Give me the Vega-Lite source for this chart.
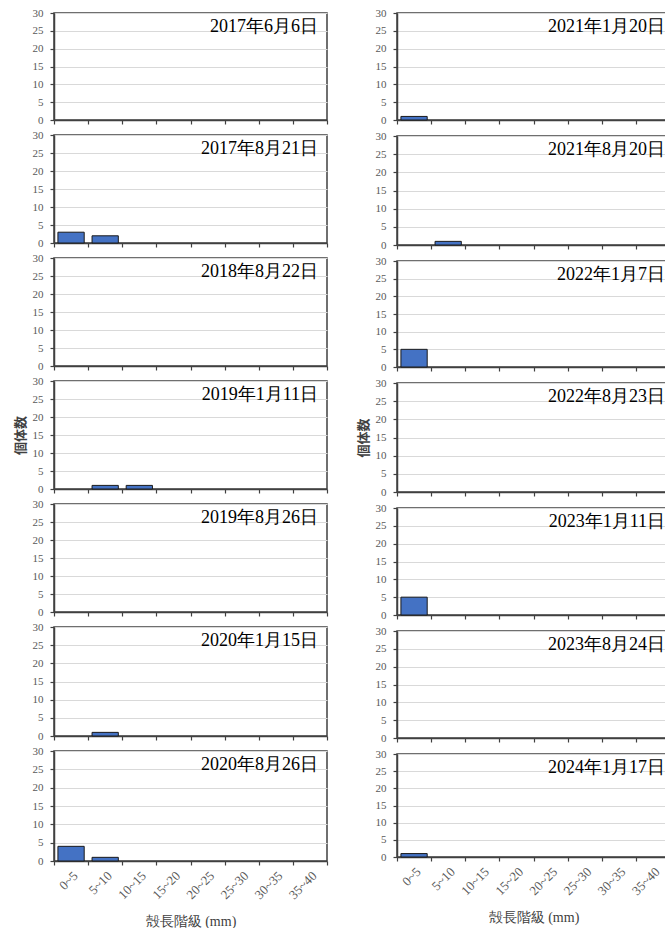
{
"$schema": "https://vega.github.io/schema/vega-lite/v6.json",
"background": "white",
"padding": {"left": 13, "top": 6, "right": 0, "bottom": 0},
"autosize": {"type": "pad"},
"datasets": {"counts": [
{"d":"2017年6月6日","c":"0~5","n":0},{"d":"2017年6月6日","c":"5~10","n":0},{"d":"2017年6月6日","c":"10~15","n":0},{"d":"2017年6月6日","c":"15~20","n":0},{"d":"2017年6月6日","c":"20~25","n":0},{"d":"2017年6月6日","c":"25~30","n":0},{"d":"2017年6月6日","c":"30~35","n":0},{"d":"2017年6月6日","c":"35~40","n":0},
{"d":"2017年8月21日","c":"0~5","n":3},{"d":"2017年8月21日","c":"5~10","n":2},{"d":"2017年8月21日","c":"10~15","n":0},{"d":"2017年8月21日","c":"15~20","n":0},{"d":"2017年8月21日","c":"20~25","n":0},{"d":"2017年8月21日","c":"25~30","n":0},{"d":"2017年8月21日","c":"30~35","n":0},{"d":"2017年8月21日","c":"35~40","n":0},
{"d":"2018年8月22日","c":"0~5","n":0},{"d":"2018年8月22日","c":"5~10","n":0},{"d":"2018年8月22日","c":"10~15","n":0},{"d":"2018年8月22日","c":"15~20","n":0},{"d":"2018年8月22日","c":"20~25","n":0},{"d":"2018年8月22日","c":"25~30","n":0},{"d":"2018年8月22日","c":"30~35","n":0},{"d":"2018年8月22日","c":"35~40","n":0},
{"d":"2019年1月11日","c":"0~5","n":0},{"d":"2019年1月11日","c":"5~10","n":1},{"d":"2019年1月11日","c":"10~15","n":1},{"d":"2019年1月11日","c":"15~20","n":0},{"d":"2019年1月11日","c":"20~25","n":0},{"d":"2019年1月11日","c":"25~30","n":0},{"d":"2019年1月11日","c":"30~35","n":0},{"d":"2019年1月11日","c":"35~40","n":0},
{"d":"2019年8月26日","c":"0~5","n":0},{"d":"2019年8月26日","c":"5~10","n":0},{"d":"2019年8月26日","c":"10~15","n":0},{"d":"2019年8月26日","c":"15~20","n":0},{"d":"2019年8月26日","c":"20~25","n":0},{"d":"2019年8月26日","c":"25~30","n":0},{"d":"2019年8月26日","c":"30~35","n":0},{"d":"2019年8月26日","c":"35~40","n":0},
{"d":"2020年1月15日","c":"0~5","n":0},{"d":"2020年1月15日","c":"5~10","n":1},{"d":"2020年1月15日","c":"10~15","n":0},{"d":"2020年1月15日","c":"15~20","n":0},{"d":"2020年1月15日","c":"20~25","n":0},{"d":"2020年1月15日","c":"25~30","n":0},{"d":"2020年1月15日","c":"30~35","n":0},{"d":"2020年1月15日","c":"35~40","n":0},
{"d":"2020年8月26日","c":"0~5","n":4},{"d":"2020年8月26日","c":"5~10","n":1},{"d":"2020年8月26日","c":"10~15","n":0},{"d":"2020年8月26日","c":"15~20","n":0},{"d":"2020年8月26日","c":"20~25","n":0},{"d":"2020年8月26日","c":"25~30","n":0},{"d":"2020年8月26日","c":"30~35","n":0},{"d":"2020年8月26日","c":"35~40","n":0},
{"d":"2021年1月20日","c":"0~5","n":1},{"d":"2021年1月20日","c":"5~10","n":0},{"d":"2021年1月20日","c":"10~15","n":0},{"d":"2021年1月20日","c":"15~20","n":0},{"d":"2021年1月20日","c":"20~25","n":0},{"d":"2021年1月20日","c":"25~30","n":0},{"d":"2021年1月20日","c":"30~35","n":0},{"d":"2021年1月20日","c":"35~40","n":0},
{"d":"2021年8月20日","c":"0~5","n":0},{"d":"2021年8月20日","c":"5~10","n":1},{"d":"2021年8月20日","c":"10~15","n":0},{"d":"2021年8月20日","c":"15~20","n":0},{"d":"2021年8月20日","c":"20~25","n":0},{"d":"2021年8月20日","c":"25~30","n":0},{"d":"2021年8月20日","c":"30~35","n":0},{"d":"2021年8月20日","c":"35~40","n":0},
{"d":"2022年1月7日","c":"0~5","n":5},{"d":"2022年1月7日","c":"5~10","n":0},{"d":"2022年1月7日","c":"10~15","n":0},{"d":"2022年1月7日","c":"15~20","n":0},{"d":"2022年1月7日","c":"20~25","n":0},{"d":"2022年1月7日","c":"25~30","n":0},{"d":"2022年1月7日","c":"30~35","n":0},{"d":"2022年1月7日","c":"35~40","n":0},
{"d":"2022年8月23日","c":"0~5","n":0},{"d":"2022年8月23日","c":"5~10","n":0},{"d":"2022年8月23日","c":"10~15","n":0},{"d":"2022年8月23日","c":"15~20","n":0},{"d":"2022年8月23日","c":"20~25","n":0},{"d":"2022年8月23日","c":"25~30","n":0},{"d":"2022年8月23日","c":"30~35","n":0},{"d":"2022年8月23日","c":"35~40","n":0},
{"d":"2023年1月11日","c":"0~5","n":5},{"d":"2023年1月11日","c":"5~10","n":0},{"d":"2023年1月11日","c":"10~15","n":0},{"d":"2023年1月11日","c":"15~20","n":0},{"d":"2023年1月11日","c":"20~25","n":0},{"d":"2023年1月11日","c":"25~30","n":0},{"d":"2023年1月11日","c":"30~35","n":0},{"d":"2023年1月11日","c":"35~40","n":0},
{"d":"2023年8月24日","c":"0~5","n":0},{"d":"2023年8月24日","c":"5~10","n":0},{"d":"2023年8月24日","c":"10~15","n":0},{"d":"2023年8月24日","c":"15~20","n":0},{"d":"2023年8月24日","c":"20~25","n":0},{"d":"2023年8月24日","c":"25~30","n":0},{"d":"2023年8月24日","c":"30~35","n":0},{"d":"2023年8月24日","c":"35~40","n":0},
{"d":"2024年1月17日","c":"0~5","n":1},{"d":"2024年1月17日","c":"5~10","n":0},{"d":"2024年1月17日","c":"10~15","n":0},{"d":"2024年1月17日","c":"15~20","n":0},{"d":"2024年1月17日","c":"20~25","n":0},{"d":"2024年1月17日","c":"25~30","n":0},{"d":"2024年1月17日","c":"30~35","n":0},{"d":"2024年1月17日","c":"35~40","n":0}
]},
"data": {"name": "counts"},
"spacing": 27,
"hconcat": [
{"bounds": "flush", "spacing": 15, "vconcat": [
{"width": 273, "height": 107, "transform": [{"filter": "datum.d === '2017年6月6日'"}], "layer": [
{"mark": {"type": "bar", "fill": "#4472C4", "stroke": "#1a1a1a", "strokeWidth": 1, "width": {"band": 0.77}}, "transform": [{"filter": "datum.n > 0"}], "encoding": {"x": {"field": "c", "type": "nominal", "sort": null, "scale": {"domain": ["0~5","5~10","10~15","15~20","20~25","25~30","30~35","35~40"], "paddingInner": 0, "paddingOuter": 0}, "axis": {"labels": false}, "title": null}, "y": {"field": "n", "type": "quantitative", "scale": {"domain": [0, 30]}, "axis": {"values": [0,5,10,15,20,25,30], "grid": true}, "title": null}}},
{"mark": {"type": "text", "font": "Liberation Serif", "fontSize": 18, "fill": "#000000", "align": "right", "baseline": "alphabetic", "dx": -9, "dy": 19}, "transform": [{"filter": "datum.c === '0~5'"}], "encoding": {"x": {"datum": "35~40", "type": "nominal", "bandPosition": 1, "axis": {"labels": false}, "title": null}, "y": {"datum": 30, "type": "quantitative", "axis": {"values": [0,5,10,15,20,25,30], "grid": true}, "title": null}, "text": {"field": "d"}}}
]},
{"width": 273, "height": 108, "transform": [{"filter": "datum.d === '2017年8月21日'"}], "layer": [
{"mark": {"type": "bar", "fill": "#4472C4", "stroke": "#1a1a1a", "strokeWidth": 1, "width": {"band": 0.77}}, "transform": [{"filter": "datum.n > 0"}], "encoding": {"x": {"field": "c", "type": "nominal", "sort": null, "scale": {"domain": ["0~5","5~10","10~15","15~20","20~25","25~30","30~35","35~40"], "paddingInner": 0, "paddingOuter": 0}, "axis": {"labels": false}, "title": null}, "y": {"field": "n", "type": "quantitative", "scale": {"domain": [0, 30]}, "axis": {"values": [0,5,10,15,20,25,30], "grid": true}, "title": null}}},
{"mark": {"type": "text", "font": "Liberation Serif", "fontSize": 18, "fill": "#000000", "align": "right", "baseline": "alphabetic", "dx": -9, "dy": 19}, "transform": [{"filter": "datum.c === '0~5'"}], "encoding": {"x": {"datum": "35~40", "type": "nominal", "bandPosition": 1, "axis": {"labels": false}, "title": null}, "y": {"datum": 30, "type": "quantitative", "axis": {"values": [0,5,10,15,20,25,30], "grid": true}, "title": null}, "text": {"field": "d"}}}
]},
{"width": 273, "height": 108, "transform": [{"filter": "datum.d === '2018年8月22日'"}], "layer": [
{"mark": {"type": "bar", "fill": "#4472C4", "stroke": "#1a1a1a", "strokeWidth": 1, "width": {"band": 0.77}}, "transform": [{"filter": "datum.n > 0"}], "encoding": {"x": {"field": "c", "type": "nominal", "sort": null, "scale": {"domain": ["0~5","5~10","10~15","15~20","20~25","25~30","30~35","35~40"], "paddingInner": 0, "paddingOuter": 0}, "axis": {"labels": false}, "title": null}, "y": {"field": "n", "type": "quantitative", "scale": {"domain": [0, 30]}, "axis": {"values": [0,5,10,15,20,25,30], "grid": true}, "title": null}}},
{"mark": {"type": "text", "font": "Liberation Serif", "fontSize": 18, "fill": "#000000", "align": "right", "baseline": "alphabetic", "dx": -9, "dy": 19}, "transform": [{"filter": "datum.c === '0~5'"}], "encoding": {"x": {"datum": "35~40", "type": "nominal", "bandPosition": 1, "axis": {"labels": false}, "title": null}, "y": {"datum": 30, "type": "quantitative", "axis": {"values": [0,5,10,15,20,25,30], "grid": true}, "title": null}, "text": {"field": "d"}}}
]},
{"width": 273, "height": 108, "transform": [{"filter": "datum.d === '2019年1月11日'"}], "layer": [
{"mark": {"type": "bar", "fill": "#4472C4", "stroke": "#1a1a1a", "strokeWidth": 1, "width": {"band": 0.77}}, "transform": [{"filter": "datum.n > 0"}], "encoding": {"x": {"field": "c", "type": "nominal", "sort": null, "scale": {"domain": ["0~5","5~10","10~15","15~20","20~25","25~30","30~35","35~40"], "paddingInner": 0, "paddingOuter": 0}, "axis": {"labels": false}, "title": null}, "y": {"field": "n", "type": "quantitative", "scale": {"domain": [0, 30]}, "axis": {"values": [0,5,10,15,20,25,30], "grid": true}, "title": "個体数"}}},
{"mark": {"type": "text", "font": "Liberation Serif", "fontSize": 18, "fill": "#000000", "align": "right", "baseline": "alphabetic", "dx": -9, "dy": 19}, "transform": [{"filter": "datum.c === '0~5'"}], "encoding": {"x": {"datum": "35~40", "type": "nominal", "bandPosition": 1, "axis": {"labels": false}, "title": null}, "y": {"datum": 30, "type": "quantitative", "axis": {"values": [0,5,10,15,20,25,30], "grid": true}, "title": "個体数"}, "text": {"field": "d"}}}
]},
{"width": 273, "height": 108, "transform": [{"filter": "datum.d === '2019年8月26日'"}], "layer": [
{"mark": {"type": "bar", "fill": "#4472C4", "stroke": "#1a1a1a", "strokeWidth": 1, "width": {"band": 0.77}}, "transform": [{"filter": "datum.n > 0"}], "encoding": {"x": {"field": "c", "type": "nominal", "sort": null, "scale": {"domain": ["0~5","5~10","10~15","15~20","20~25","25~30","30~35","35~40"], "paddingInner": 0, "paddingOuter": 0}, "axis": {"labels": false}, "title": null}, "y": {"field": "n", "type": "quantitative", "scale": {"domain": [0, 30]}, "axis": {"values": [0,5,10,15,20,25,30], "grid": true}, "title": null}}},
{"mark": {"type": "text", "font": "Liberation Serif", "fontSize": 18, "fill": "#000000", "align": "right", "baseline": "alphabetic", "dx": -9, "dy": 19}, "transform": [{"filter": "datum.c === '0~5'"}], "encoding": {"x": {"datum": "35~40", "type": "nominal", "bandPosition": 1, "axis": {"labels": false}, "title": null}, "y": {"datum": 30, "type": "quantitative", "axis": {"values": [0,5,10,15,20,25,30], "grid": true}, "title": null}, "text": {"field": "d"}}}
]},
{"width": 273, "height": 109, "transform": [{"filter": "datum.d === '2020年1月15日'"}], "layer": [
{"mark": {"type": "bar", "fill": "#4472C4", "stroke": "#1a1a1a", "strokeWidth": 1, "width": {"band": 0.77}}, "transform": [{"filter": "datum.n > 0"}], "encoding": {"x": {"field": "c", "type": "nominal", "sort": null, "scale": {"domain": ["0~5","5~10","10~15","15~20","20~25","25~30","30~35","35~40"], "paddingInner": 0, "paddingOuter": 0}, "axis": {"labels": false}, "title": null}, "y": {"field": "n", "type": "quantitative", "scale": {"domain": [0, 30]}, "axis": {"values": [0,5,10,15,20,25,30], "grid": true}, "title": null}}},
{"mark": {"type": "text", "font": "Liberation Serif", "fontSize": 18, "fill": "#000000", "align": "right", "baseline": "alphabetic", "dx": -9, "dy": 19}, "transform": [{"filter": "datum.c === '0~5'"}], "encoding": {"x": {"datum": "35~40", "type": "nominal", "bandPosition": 1, "axis": {"labels": false}, "title": null}, "y": {"datum": 30, "type": "quantitative", "axis": {"values": [0,5,10,15,20,25,30], "grid": true}, "title": null}, "text": {"field": "d"}}}
]},
{"width": 273, "height": 110, "transform": [{"filter": "datum.d === '2020年8月26日'"}], "layer": [
{"mark": {"type": "bar", "fill": "#4472C4", "stroke": "#1a1a1a", "strokeWidth": 1, "width": {"band": 0.77}}, "transform": [{"filter": "datum.n > 0"}], "encoding": {"x": {"field": "c", "type": "nominal", "sort": null, "scale": {"domain": ["0~5","5~10","10~15","15~20","20~25","25~30","30~35","35~40"], "paddingInner": 0, "paddingOuter": 0}, "axis": {"labels": true}, "title": "殻長階級 (mm)"}, "y": {"field": "n", "type": "quantitative", "scale": {"domain": [0, 30]}, "axis": {"values": [0,5,10,15,20,25,30], "grid": true}, "title": null}}},
{"mark": {"type": "text", "font": "Liberation Serif", "fontSize": 18, "fill": "#000000", "align": "right", "baseline": "alphabetic", "dx": -9, "dy": 19}, "transform": [{"filter": "datum.c === '0~5'"}], "encoding": {"x": {"datum": "35~40", "type": "nominal", "bandPosition": 1, "axis": {"labels": true}, "title": "殻長階級 (mm)"}, "y": {"datum": 30, "type": "quantitative", "axis": {"values": [0,5,10,15,20,25,30], "grid": true}, "title": null}, "text": {"field": "d"}}}
]}
]},
{"bounds": "flush", "spacing": 16, "vconcat": [
{"width": 273, "height": 107, "transform": [{"filter": "datum.d === '2021年1月20日'"}], "layer": [
{"mark": {"type": "bar", "fill": "#4472C4", "stroke": "#1a1a1a", "strokeWidth": 1, "width": {"band": 0.77}}, "transform": [{"filter": "datum.n > 0"}], "encoding": {"x": {"field": "c", "type": "nominal", "sort": null, "scale": {"domain": ["0~5","5~10","10~15","15~20","20~25","25~30","30~35","35~40"], "paddingInner": 0, "paddingOuter": 0}, "axis": {"labels": false}, "title": null}, "y": {"field": "n", "type": "quantitative", "scale": {"domain": [0, 30]}, "axis": {"values": [0,5,10,15,20,25,30], "grid": true}, "title": null}}},
{"mark": {"type": "text", "font": "Liberation Serif", "fontSize": 18, "fill": "#000000", "align": "right", "baseline": "alphabetic", "dx": -5, "dy": 19}, "transform": [{"filter": "datum.c === '0~5'"}], "encoding": {"x": {"datum": "35~40", "type": "nominal", "bandPosition": 1, "axis": {"labels": false}, "title": null}, "y": {"datum": 30, "type": "quantitative", "axis": {"values": [0,5,10,15,20,25,30], "grid": true}, "title": null}, "text": {"field": "d"}}}
]},
{"width": 273, "height": 109, "transform": [{"filter": "datum.d === '2021年8月20日'"}], "layer": [
{"mark": {"type": "bar", "fill": "#4472C4", "stroke": "#1a1a1a", "strokeWidth": 1, "width": {"band": 0.77}}, "transform": [{"filter": "datum.n > 0"}], "encoding": {"x": {"field": "c", "type": "nominal", "sort": null, "scale": {"domain": ["0~5","5~10","10~15","15~20","20~25","25~30","30~35","35~40"], "paddingInner": 0, "paddingOuter": 0}, "axis": {"labels": false}, "title": null}, "y": {"field": "n", "type": "quantitative", "scale": {"domain": [0, 30]}, "axis": {"values": [0,5,10,15,20,25,30], "grid": true}, "title": null}}},
{"mark": {"type": "text", "font": "Liberation Serif", "fontSize": 18, "fill": "#000000", "align": "right", "baseline": "alphabetic", "dx": -5, "dy": 19}, "transform": [{"filter": "datum.c === '0~5'"}], "encoding": {"x": {"datum": "35~40", "type": "nominal", "bandPosition": 1, "axis": {"labels": false}, "title": null}, "y": {"datum": 30, "type": "quantitative", "axis": {"values": [0,5,10,15,20,25,30], "grid": true}, "title": null}, "text": {"field": "d"}}}
]},
{"width": 273, "height": 106, "transform": [{"filter": "datum.d === '2022年1月7日'"}], "layer": [
{"mark": {"type": "bar", "fill": "#4472C4", "stroke": "#1a1a1a", "strokeWidth": 1, "width": {"band": 0.77}}, "transform": [{"filter": "datum.n > 0"}], "encoding": {"x": {"field": "c", "type": "nominal", "sort": null, "scale": {"domain": ["0~5","5~10","10~15","15~20","20~25","25~30","30~35","35~40"], "paddingInner": 0, "paddingOuter": 0}, "axis": {"labels": false}, "title": null}, "y": {"field": "n", "type": "quantitative", "scale": {"domain": [0, 30]}, "axis": {"values": [0,5,10,15,20,25,30], "grid": true}, "title": null}}},
{"mark": {"type": "text", "font": "Liberation Serif", "fontSize": 18, "fill": "#000000", "align": "right", "baseline": "alphabetic", "dx": -5, "dy": 19}, "transform": [{"filter": "datum.c === '0~5'"}], "encoding": {"x": {"datum": "35~40", "type": "nominal", "bandPosition": 1, "axis": {"labels": false}, "title": null}, "y": {"datum": 30, "type": "quantitative", "axis": {"values": [0,5,10,15,20,25,30], "grid": true}, "title": null}, "text": {"field": "d"}}}
]},
{"width": 273, "height": 109, "transform": [{"filter": "datum.d === '2022年8月23日'"}], "layer": [
{"mark": {"type": "bar", "fill": "#4472C4", "stroke": "#1a1a1a", "strokeWidth": 1, "width": {"band": 0.77}}, "transform": [{"filter": "datum.n > 0"}], "encoding": {"x": {"field": "c", "type": "nominal", "sort": null, "scale": {"domain": ["0~5","5~10","10~15","15~20","20~25","25~30","30~35","35~40"], "paddingInner": 0, "paddingOuter": 0}, "axis": {"labels": false}, "title": null}, "y": {"field": "n", "type": "quantitative", "scale": {"domain": [0, 30]}, "axis": {"values": [0,5,10,15,20,25,30], "grid": true}, "title": "個体数"}}},
{"mark": {"type": "text", "font": "Liberation Serif", "fontSize": 18, "fill": "#000000", "align": "right", "baseline": "alphabetic", "dx": -5, "dy": 19}, "transform": [{"filter": "datum.c === '0~5'"}], "encoding": {"x": {"datum": "35~40", "type": "nominal", "bandPosition": 1, "axis": {"labels": false}, "title": null}, "y": {"datum": 30, "type": "quantitative", "axis": {"values": [0,5,10,15,20,25,30], "grid": true}, "title": "個体数"}, "text": {"field": "d"}}}
]},
{"width": 273, "height": 107, "transform": [{"filter": "datum.d === '2023年1月11日'"}], "layer": [
{"mark": {"type": "bar", "fill": "#4472C4", "stroke": "#1a1a1a", "strokeWidth": 1, "width": {"band": 0.77}}, "transform": [{"filter": "datum.n > 0"}], "encoding": {"x": {"field": "c", "type": "nominal", "sort": null, "scale": {"domain": ["0~5","5~10","10~15","15~20","20~25","25~30","30~35","35~40"], "paddingInner": 0, "paddingOuter": 0}, "axis": {"labels": false}, "title": null}, "y": {"field": "n", "type": "quantitative", "scale": {"domain": [0, 30]}, "axis": {"values": [0,5,10,15,20,25,30], "grid": true}, "title": null}}},
{"mark": {"type": "text", "font": "Liberation Serif", "fontSize": 18, "fill": "#000000", "align": "right", "baseline": "alphabetic", "dx": -5, "dy": 19}, "transform": [{"filter": "datum.c === '0~5'"}], "encoding": {"x": {"datum": "35~40", "type": "nominal", "bandPosition": 1, "axis": {"labels": false}, "title": null}, "y": {"datum": 30, "type": "quantitative", "axis": {"values": [0,5,10,15,20,25,30], "grid": true}, "title": null}, "text": {"field": "d"}}}
]},
{"width": 273, "height": 107, "transform": [{"filter": "datum.d === '2023年8月24日'"}], "layer": [
{"mark": {"type": "bar", "fill": "#4472C4", "stroke": "#1a1a1a", "strokeWidth": 1, "width": {"band": 0.77}}, "transform": [{"filter": "datum.n > 0"}], "encoding": {"x": {"field": "c", "type": "nominal", "sort": null, "scale": {"domain": ["0~5","5~10","10~15","15~20","20~25","25~30","30~35","35~40"], "paddingInner": 0, "paddingOuter": 0}, "axis": {"labels": false}, "title": null}, "y": {"field": "n", "type": "quantitative", "scale": {"domain": [0, 30]}, "axis": {"values": [0,5,10,15,20,25,30], "grid": true}, "title": null}}},
{"mark": {"type": "text", "font": "Liberation Serif", "fontSize": 18, "fill": "#000000", "align": "right", "baseline": "alphabetic", "dx": -5, "dy": 19}, "transform": [{"filter": "datum.c === '0~5'"}], "encoding": {"x": {"datum": "35~40", "type": "nominal", "bandPosition": 1, "axis": {"labels": false}, "title": null}, "y": {"datum": 30, "type": "quantitative", "axis": {"values": [0,5,10,15,20,25,30], "grid": true}, "title": null}, "text": {"field": "d"}}}
]},
{"width": 273, "height": 103, "transform": [{"filter": "datum.d === '2024年1月17日'"}], "layer": [
{"mark": {"type": "bar", "fill": "#4472C4", "stroke": "#1a1a1a", "strokeWidth": 1, "width": {"band": 0.77}}, "transform": [{"filter": "datum.n > 0"}], "encoding": {"x": {"field": "c", "type": "nominal", "sort": null, "scale": {"domain": ["0~5","5~10","10~15","15~20","20~25","25~30","30~35","35~40"], "paddingInner": 0, "paddingOuter": 0}, "axis": {"labels": true}, "title": "殻長階級 (mm)"}, "y": {"field": "n", "type": "quantitative", "scale": {"domain": [0, 30]}, "axis": {"values": [0,5,10,15,20,25,30], "grid": true}, "title": null}}},
{"mark": {"type": "text", "font": "Liberation Serif", "fontSize": 18, "fill": "#000000", "align": "right", "baseline": "alphabetic", "dx": -5, "dy": 19}, "transform": [{"filter": "datum.c === '0~5'"}], "encoding": {"x": {"datum": "35~40", "type": "nominal", "bandPosition": 1, "axis": {"labels": true}, "title": "殻長階級 (mm)"}, "y": {"datum": 30, "type": "quantitative", "axis": {"values": [0,5,10,15,20,25,30], "grid": true}, "title": null}, "text": {"field": "d"}}}
]}
]}
],
"config": {
"view": {"stroke": "#404040", "strokeWidth": 1.5, "fill": "white"},
"axis": {"labelFont": "Liberation Serif", "labelFontSize": 11, "labelColor": "#595959", "domainColor": "#404040", "domainWidth": 1.5, "tickColor": "#404040", "tickWidth": 1.2, "tickSize": 4, "gridColor": "#d9d9d9", "gridWidth": 1, "titleFont": "Liberation Serif", "titleColor": "#404040"},
"axisX": {"tickBand": "extent", "grid": false, "labelAngle": -45, "labelPadding": 4, "labelFontSize": 13, "titleFontSize": 14, "titleFontWeight": "normal", "titlePadding": 13},
"axisY": {"grid": true, "labelPadding": 7, "titleFontSize": 13, "titleFontWeight": "bold", "titlePadding": 5, "titleFont": "Noto Sans CJK JP"}
}
}
